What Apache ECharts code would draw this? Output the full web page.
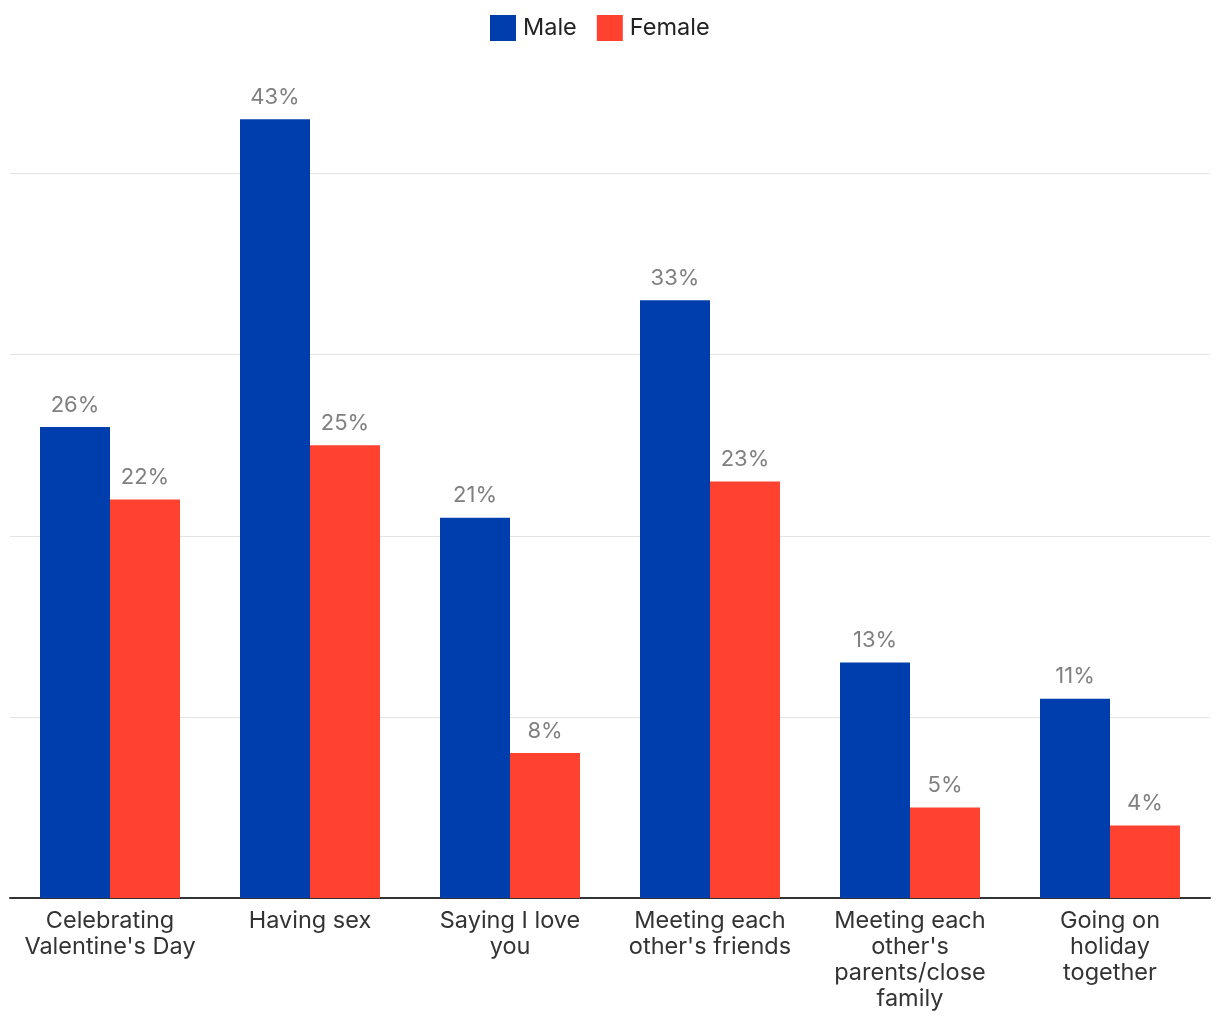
<!DOCTYPE html>
<html><head><meta charset="utf-8">
<script src="https://cdn.jsdelivr.net/npm/echarts@6/dist/echarts.min.js"></script>
<style>html,body{margin:0;padding:0;background:#fff}#c{width:1220px;height:1020px}</style>
</head><body><div id="c"></div>
<script>
const categories = ["Celebrating\nValentine's Day", "Having sex", "Saying I love\nyou", "Meeting each\nother's friends", "Meeting each\nother's\nparents/close\nfamily", "Going on\nholiday\ntogether"];
const maleValues = [26, 43, 21, 33, 13, 11];
const femaleValues = [22, 25, 8, 23, 5, 4];
const seriesNames = ["Male", "Female"];

const chart = echarts.init(document.getElementById('c'), null, {renderer: 'canvas'});
const font = 'Inter, Roboto, "Noto Sans", sans-serif';
const labelCfg = {show: true, position: 'top', distance: 11, color: '#808080', fontSize: 22, fontFamily: font, formatter: p => p.value + '%'};
chart.setOption({
  animation: false,
  textStyle: {fontFamily: font},
  legend: {
    top: 10, left: 485, itemWidth: 26, itemHeight: 26, itemGap: 20,
    icon: 'rect',
    textStyle: {fontSize: 23.5, color: '#222', fontFamily: font, padding: [0, 0, 0, 2]},
    data: seriesNames
  },
  grid: {left: 10, right: 10, top: 83, bottom: 122, containLabel: false},
  xAxis: {
    type: 'category', data: categories,
    axisLine: {lineStyle: {color: '#333', width: 2}},
    axisTick: {show: false},
    axisLabel: {interval: 0, margin: 10, color: '#333', fontSize: 23.5, lineHeight: 26, fontFamily: font}
  },
  yAxis: {
    type: 'value', min: 0, max: 45, interval: 10,
    axisLabel: {show: false}, axisLine: {show: false}, axisTick: {show: false},
    splitLine: {show: true, showMinLine: false, showMaxLine: false, lineStyle: {color: '#e3e3e3', width: 1}}
  },
  series: [
    {name: seriesNames[0], type: 'bar', data: maleValues, barWidth: 70, barGap: '0%', itemStyle: {color: '#003DAD'}, label: labelCfg},
    {name: seriesNames[1], type: 'bar', data: femaleValues, barWidth: 70, barGap: '0%', itemStyle: {color: '#FF4130'}, label: labelCfg}
  ]
});
</script></body></html>
